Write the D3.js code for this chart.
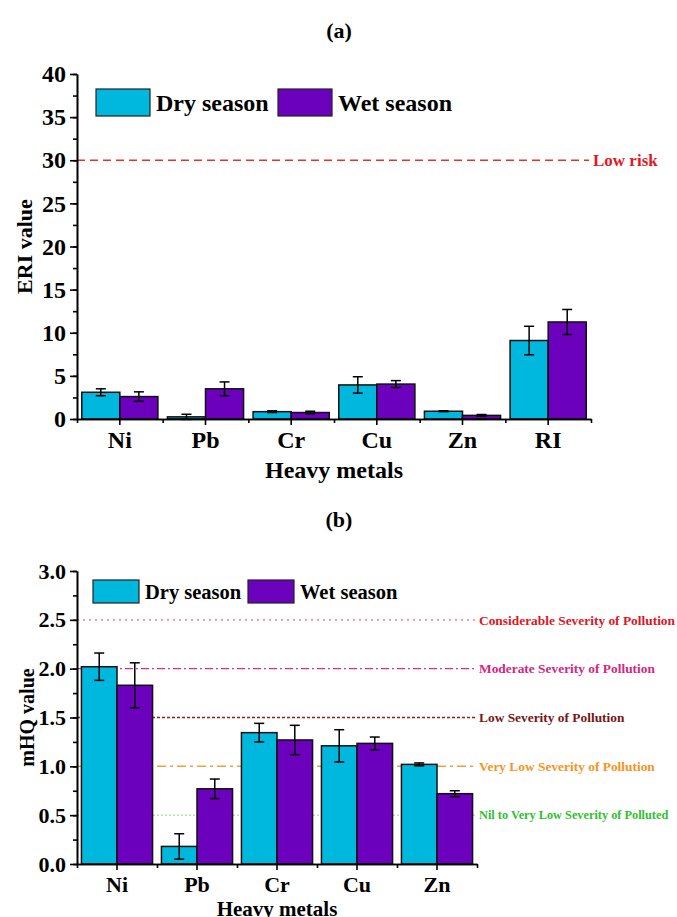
<!DOCTYPE html>
<html lang="en">
  <head>
    <meta charset="UTF-8" />
    <title>ERI and mHQ by season</title>
    <script src="https://d3js.org/d3.v7.min.js"></script>
    <style>
      body { margin: 0; background: #fff; }
      svg { display: block; font-family: "Liberation Serif", "Times New Roman", serif; font-weight: bold; }
    </style>
  </head>
  <body>
    <script>
      // data
      const metalsA = ["Ni", "Pb", "Cr", "Cu", "Zn", "RI"];
      const eriDry = [3.1, 0.25, 0.85, 3.95, 0.9, 9.1];
      const eriDryErr = [0.4, 0.3, 0.1, 0.95, 0.05, 1.65];
      const eriWet = [2.6, 3.5, 0.75, 4.05, 0.42, 11.25];
      const eriWetErr = [0.55, 0.8, 0.15, 0.4, 0.1, 1.45];
      const eriTicks = [0, 5, 10, 15, 20, 25, 30, 35, 40];

      const metalsB = ["Ni", "Pb", "Cr", "Cu", "Zn"];
      const mhqDry = [2.02, 0.18, 1.345, 1.21, 1.02];
      const mhqDryErr = [0.14, 0.13, 0.095, 0.165, 0.015];
      const mhqWet = [1.83, 0.77, 1.27, 1.235, 0.72];
      const mhqWetErr = [0.23, 0.1, 0.15, 0.065, 0.03];
      const mhqTicks = [0, 0.5, 1, 1.5, 2, 2.5, 3];

      const seasons = ["Dry season", "Wet season"];
      const colors = ["#00b7dd", "#6b00bd"];

      const eriLines = [{ v: 30, label: "Low risk" }];
      const mhqLines = [
        { v: 2.5, label: "Considerable Severity of Pollution" },
        { v: 2.0, label: "Moderate Severity of Pollution" },
        { v: 1.5, label: "Low Severity of Pollution" },
        { v: 1.0, label: "Very Low Severity of Pollution" },
        { v: 0.5, label: "Nil to Very Low Severity of Polluted" },
      ];

      const svg = d3.select("body").append("svg")
        .attr("width", 677).attr("height", 917);

      function drawChart(o) {
        const g = svg.append("g");
        const x = d3.scaleBand().domain(o.cats).range([o.x0, o.x1]);
        const sub = d3.scaleBand().domain(seasons).range([0, x.bandwidth()]).paddingOuter(0.125);
        const y = d3.scaleLinear().domain([0, o.ymax]).range([o.y0, o.y1]);

        // reference lines
        o.lines.forEach((l, i) => {
          g.append("line")
            .attr("x1", o.x0).attr("x2", o.lineEnd)
            .attr("y1", y(l.v)).attr("y2", y(l.v))
            .attr("stroke", o.lineStyle[i].stroke)
            .attr("stroke-width", o.lineStyle[i].w)
            .attr("stroke-dasharray", o.lineStyle[i].dash);
          g.append("text")
            .attr("x", o.lineEnd + 4).attr("y", y(l.v))
            .attr("dy", "0.35em")
            .attr("fill", o.lineStyle[i].text)
            .attr("font-size", o.lineStyle[i].fs)
            .text(l.label);
        });

        // bars
        const series = [
          { vals: o.dry, err: o.dryErr, s: seasons[0], c: colors[0] },
          { vals: o.wet, err: o.wetErr, s: seasons[1], c: colors[1] },
        ];
        series.forEach(se => {
          g.selectAll(null).data(o.cats).join("rect")
            .attr("x", (d) => x(d) + sub(se.s))
            .attr("y", (d, i) => y(se.vals[i]))
            .attr("width", sub.bandwidth())
            .attr("height", (d, i) => y(0) - y(se.vals[i]))
            .attr("fill", se.c)
            .attr("stroke", "#111")
            .attr("stroke-width", 1.5);
          const eb = g.selectAll(null).data(o.cats).join("g")
            .attr("stroke", "#000").attr("stroke-width", 1.5);
          const cx = (d) => x(d) + sub(se.s) + sub.bandwidth() / 2;
          eb.append("line")
            .attr("x1", cx).attr("x2", cx)
            .attr("y1", (d, i) => y(se.vals[i] + se.err[i]))
            .attr("y2", (d, i) => y(se.vals[i] - se.err[i]));
          [1, -1].forEach(sign => {
            eb.append("line")
              .attr("x1", (d) => cx(d) - 5).attr("x2", (d) => cx(d) + 5)
              .attr("y1", (d, i) => y(se.vals[i] + sign * se.err[i]))
              .attr("y2", (d, i) => y(se.vals[i] + sign * se.err[i]));
          });
        });

        // y axis
        const minor = d3.range(0, o.ymax + 1e-9, o.ticks[1] / 2);
        g.append("g").attr("transform", `translate(${o.x0},0)`)
          .call(d3.axisLeft(y).tickValues(minor).tickSize(4).tickFormat("").tickSizeOuter(0));
        g.append("g").attr("transform", `translate(${o.x0},0)`)
          .call(d3.axisLeft(y).tickValues(o.ticks).tickSize(7).tickPadding(4)
            .tickFormat(o.fmt).tickSizeOuter(0))
          .call(a => a.selectAll("text").attr("font-size", o.tickFs)
            .attr("font-family", "Liberation Serif").attr("font-weight", "bold"));

        // x axis
        const edges = d3.scaleLinear().domain([0, o.cats.length]).range([o.x0, o.x1]);
        g.append("g").attr("transform", `translate(0,${o.y0})`)
          .call(d3.axisBottom(edges).tickValues(d3.range(o.cats.length + 1))
            .tickSize(4).tickFormat("").tickSizeOuter(0));
        g.append("g").attr("transform", `translate(0,${o.y0})`)
          .call(d3.axisBottom(x).tickSize(6).tickPadding(6).tickSizeOuter(0))
          .call(a => a.selectAll("text").attr("font-size", o.catFs)
            .attr("font-family", "Liberation Serif").attr("font-weight", "bold"));

        g.selectAll(".domain, .tick line").attr("stroke", "#000").attr("stroke-width", 1.6);
        g.selectAll(".tick text").attr("fill", "#000");

        // titles
        g.append("text").attr("x", 339).attr("y", o.titleY)
          .attr("text-anchor", "middle").attr("font-size", 22).text(o.title);
        g.append("text").attr("x", (o.x0 + o.x1) / 2).attr("y", o.xTitleY)
          .attr("text-anchor", "middle").attr("font-size", o.xTitleFs).text("Heavy metals");
        g.append("text")
          .attr("transform", `translate(${o.yTitleX},${(o.y0 + o.y1) / 2}) rotate(-90)`)
          .attr("text-anchor", "middle").attr("font-size", o.yTitleFs).text(o.yTitle);

        // legend
        seasons.forEach((s, i) => {
          const lg = g.append("g").attr("transform", `translate(${o.legX[i]},${o.legY})`);
          lg.append("rect").attr("width", o.legW).attr("height", o.legH)
            .attr("fill", colors[i]).attr("stroke", "#222").attr("stroke-width", 1.2);
          lg.append("text").attr("x", o.legW + 6).attr("y", o.legH / 2)
            .attr("dy", "0.35em").attr("font-size", o.legFs).text(s);
        });
      }

      drawChart({
        title: "(a)", titleY: 38,
        cats: metalsA, dry: eriDry, dryErr: eriDryErr, wet: eriWet, wetErr: eriWetErr,
        ymax: 40, ticks: eriTicks, fmt: d3.format("d"),
        x0: 77, x1: 591, y0: 419, y1: 74, lineEnd: 589,
        lines: eriLines,
        lineStyle: [{ stroke: "#e8312f", w: 1.5, dash: "8,5", text: "#e3181f", fs: 17 }],
        tickFs: 24, catFs: 24, xTitleY: 478, xTitleFs: 24,
        yTitle: "ERI value", yTitleX: 32, yTitleFs: 22,
        legX: [96, 278], legY: 89, legW: 54, legH: 27, legFs: 24,
      });

      drawChart({
        title: "(b)", titleY: 527,
        cats: metalsB, dry: mhqDry, dryErr: mhqDryErr, wet: mhqWet, wetErr: mhqWetErr,
        ymax: 3, ticks: mhqTicks, fmt: d3.format(".1f"),
        x0: 77, x1: 477, y0: 864, y1: 571, lineEnd: 475,
        lines: mhqLines,
        lineStyle: [
          { stroke: "#e66a6a", w: 1.2, dash: "2,4", text: "#e0141e", fs: 13.4 },
          { stroke: "#d62f8c", w: 1.3, dash: "8,3,2,3", text: "#d6257f", fs: 13.4 },
          { stroke: "#8b2020", w: 1.3, dash: "3,2", text: "#7b1414", fs: 13.4 },
          { stroke: "#f0a040", w: 1.5, dash: "9,4,3,4", text: "#f7941d", fs: 13.4 },
          { stroke: "#7ddc7d", w: 1, dash: "2,2", text: "#2fbf2f", fs: 12.3 },
        ],
        tickFs: 22, catFs: 22, xTitleY: 916, xTitleFs: 21,
        yTitle: "mHQ value", yTitleX: 34, yTitleFs: 20,
        legX: [93, 248], legY: 580, legW: 46, legH: 23, legFs: 20.5,
      });
    </script>
  </body>
</html>
